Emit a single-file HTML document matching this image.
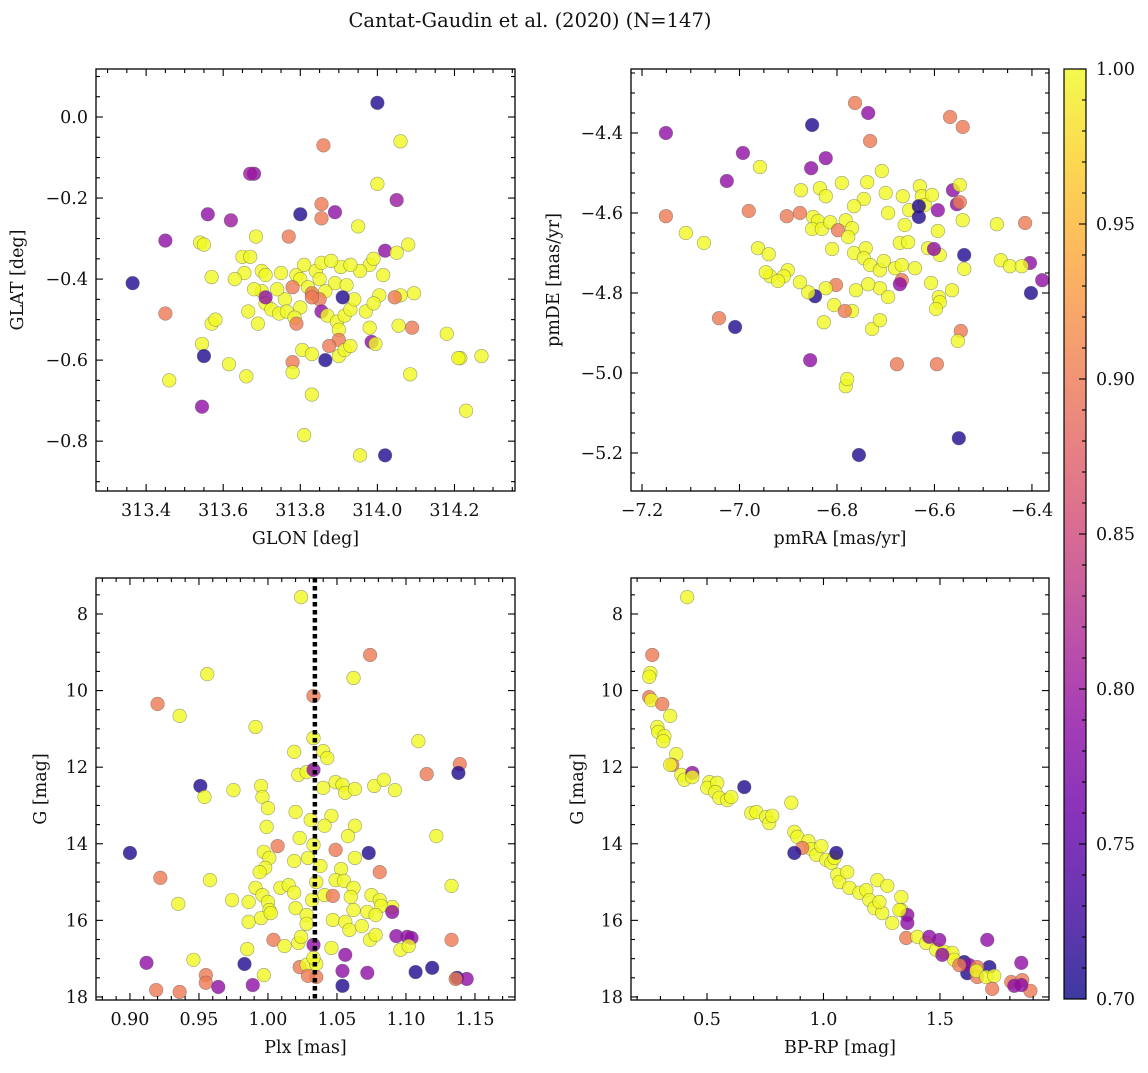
<!DOCTYPE html>
<html><head><meta charset="utf-8"><style>
html,body{margin:0;padding:0;background:#fff;}
svg text{font-family:"DejaVu Serif","Liberation Serif",serif;fill:#111;}
</style></head><body>
<svg id="chart" width="1148" height="1068" viewBox="0 0 1148 1068" xmlns="http://www.w3.org/2000/svg">
<text x="530" y="27" font-size="19.5" text-anchor="middle">Cantat-Gaudin et al. (2020) (N=147)</text>
</svg>
<script>
// ---------- Panel 1 data: GLON / GLAT ----------
const p1Lon=[314.00,313.86,314.06,313.68,313.67,314.00,314.05,313.855,313.56,313.80,313.89,313.855,313.62,313.95,313.45,313.54,313.55,313.685,313.77,314.08,313.365,314.02,314.05,313.57,313.65,313.67,313.70,313.655,313.75,313.71,313.98,313.99,313.955,313.905,313.93,313.79,313.81,313.84,313.855,313.88,313.85,313.89,313.92,313.80,313.82,313.865,313.78,313.83,313.85,313.83,313.80,313.76,313.74,313.70,313.68,313.71,313.725,313.745,313.765,313.785,313.79,313.71,313.855,313.87,313.895,313.915,313.93,313.94,313.91,314.015,314.005,314.06,314.095,314.045,313.97,313.99,313.45,313.545,313.545,313.55,313.57,313.58,313.69,313.665,313.865,313.78,313.78,313.805,313.83,313.90,313.90,313.90,313.915,313.93,313.875,313.985,313.995,313.98,314.055,314.09,314.18,314.215,314.21,314.27,314.23,314.085,313.46,313.66,313.615,313.83,313.81,313.955,314.02,313.63];
const p1Lat=[0.035,-0.07,-0.06,-0.14,-0.14,-0.165,-0.205,-0.215,-0.24,-0.24,-0.235,-0.25,-0.255,-0.27,-0.305,-0.31,-0.315,-0.295,-0.295,-0.315,-0.41,-0.33,-0.335,-0.395,-0.345,-0.345,-0.38,-0.385,-0.385,-0.39,-0.365,-0.35,-0.38,-0.37,-0.365,-0.39,-0.365,-0.38,-0.36,-0.355,-0.40,-0.41,-0.415,-0.40,-0.42,-0.43,-0.42,-0.435,-0.45,-0.445,-0.47,-0.45,-0.425,-0.43,-0.425,-0.46,-0.475,-0.485,-0.48,-0.495,-0.51,-0.445,-0.48,-0.49,-0.505,-0.49,-0.475,-0.45,-0.445,-0.39,-0.44,-0.44,-0.435,-0.445,-0.48,-0.46,-0.485,-0.56,-0.715,-0.59,-0.51,-0.50,-0.51,-0.48,-0.60,-0.605,-0.63,-0.575,-0.585,-0.525,-0.55,-0.59,-0.575,-0.565,-0.565,-0.555,-0.56,-0.52,-0.515,-0.52,-0.535,-0.595,-0.595,-0.59,-0.725,-0.635,-0.65,-0.64,-0.61,-0.685,-0.785,-0.835,-0.835,-0.40];
const p1Prob=[0.71,0.9,1,0.79,0.8,1,0.8,0.9,0.79,0.71,0.79,0.9,0.8,1,0.79,1,1,1,0.9,1,0.71,0.79,1,1,1,1,1,1,1,1,1,1,1,1,1,1,1,1,1,1,1,1,1,1,1,1,0.9,0.9,0.9,0.9,1,1,1,1,1,1,1,1,1,1,0.9,0.79,0.79,1,1,1,1,1,0.71,1,1,1,1,0.9,1,1,0.9,1,0.79,0.71,1,1,1,1,0.71,0.9,1,1,1,1,0.9,1,1,1,0.9,0.79,1,1,1,0.9,1,1,1,1,1,1,1,1,1,1,1,1,0.71,1];
const p1XTicks=[313.4,313.6,313.8,314.0,314.2];
const p1YTicks=[0.0,-0.2,-0.4,-0.6,-0.8];

// ---------- Panel 2 data: pmRA / pmDE ----------
const p2RA=[-7.151,-6.763,-6.851,-6.736,-6.732,-6.568,-6.542,-6.993,-6.823,-7.026,-6.958,-6.853,-6.708,-6.790,-6.738,-6.835,-6.874,-6.823,-6.745,-6.700,-6.630,-6.695,-6.765,-6.665,-6.652,-6.626,-6.620,-6.605,-6.632,-6.632,-6.593,-6.554,-6.562,-6.548,-6.542,-6.472,-6.548,-6.414,-7.151,-7.110,-7.073,-6.981,-6.903,-6.876,-6.849,-6.839,-6.851,-6.831,-6.814,-6.782,-6.769,-6.798,-6.810,-6.777,-6.765,-6.741,-6.745,-6.732,-6.712,-6.704,-6.681,-6.667,-6.640,-6.671,-6.654,-6.613,-6.589,-6.661,-6.593,-6.539,-6.601,-6.667,-6.671,-6.712,-6.736,-6.695,-6.761,-6.802,-6.823,-6.845,-6.859,-6.901,-6.909,-6.937,-6.946,-6.921,-6.876,-6.769,-6.806,-6.827,-6.784,-6.728,-6.712,-6.782,-6.779,-6.855,-7.042,-7.009,-6.607,-6.591,-6.589,-6.597,-6.564,-6.539,-6.464,-6.445,-6.546,-6.552,-6.677,-6.595,-6.550,-6.755,-6.402,-6.404,-6.379,-6.421,-6.962,-6.940];
const p2DE=[-4.400,-4.325,-4.380,-4.350,-4.420,-4.360,-4.385,-4.450,-4.463,-4.520,-4.485,-4.488,-4.495,-4.525,-4.523,-4.538,-4.543,-4.558,-4.565,-4.550,-4.533,-4.600,-4.583,-4.558,-4.593,-4.558,-4.580,-4.555,-4.583,-4.610,-4.593,-4.578,-4.543,-4.530,-4.618,-4.628,-4.573,-4.625,-4.608,-4.650,-4.675,-4.595,-4.608,-4.600,-4.610,-4.620,-4.640,-4.640,-4.623,-4.618,-4.638,-4.643,-4.690,-4.660,-4.700,-4.688,-4.713,-4.730,-4.743,-4.720,-4.738,-4.730,-4.738,-4.675,-4.673,-4.688,-4.705,-4.630,-4.645,-4.705,-4.690,-4.768,-4.778,-4.788,-4.778,-4.810,-4.793,-4.780,-4.788,-4.808,-4.798,-4.743,-4.758,-4.758,-4.748,-4.770,-4.773,-4.845,-4.830,-4.873,-4.845,-4.890,-4.868,-5.033,-5.015,-4.968,-4.863,-4.885,-4.775,-4.810,-4.823,-4.840,-4.793,-4.740,-4.718,-4.733,-4.895,-4.920,-4.978,-4.978,-5.163,-5.205,-4.800,-4.725,-4.768,-4.733,-4.688,-4.703];
const p2Prob=[0.79,0.9,0.71,0.79,0.9,0.9,0.9,0.79,0.79,0.79,1,0.79,1,1,1,1,1,1,1,1,1,1,1,1,1,1,1,1,0.71,0.71,0.79,0.79,0.79,1,1,1,0.9,0.9,0.9,1,1,0.9,0.9,0.9,1,1,1,1,1,1,1,0.9,1,1,1,1,1,1,1,1,1,1,1,1,1,1,1,1,1,0.71,0.79,0.9,0.79,1,1,1,1,0.9,1,0.71,1,1,1,1,1,1,1,1,1,1,0.9,1,1,1,1,0.79,0.9,0.71,1,1,1,1,1,1,1,1,0.9,1,0.9,0.9,0.71,0.71,0.71,0.79,0.79,1,1,1];
const p2XTicks=[-7.2,-7.0,-6.8,-6.6,-6.4];
const p2YTicks=[-4.4,-4.6,-4.8,-5.0,-5.2];

// ---------- Panel 3 data: Plx / G ----------
const p3Plx=[1.024,1.074,1.062,1.033,0.956,0.920,0.936,0.991,1.109,1.019,1.033,1.040,1.043,0.951,0.954,0.975,0.995,0.996,1.022,1.028,1.033,1.040,1.049,1.054,1.056,1.063,1.077,1.084,1.092,1.115,1.139,1.138,1.122,1.020,1.031,1.046,1.041,1.063,1.000,0.999,1.023,1.033,1.058,1.049,1.073,0.900,0.922,0.997,1.007,1.001,0.998,1.019,1.029,1.038,1.053,1.063,1.081,0.958,0.994,0.991,0.996,1.009,1.015,1.019,1.035,1.041,1.049,1.055,1.062,0.935,0.974,0.986,1.000,1.001,1.032,1.047,1.060,1.075,1.081,1.090,1.082,1.133,0.986,0.995,1.002,1.020,1.028,1.028,1.047,1.062,1.072,1.078,1.056,1.004,0.985,1.012,1.022,1.024,1.046,1.059,1.068,1.074,1.078,1.093,1.101,1.104,1.096,1.102,1.090,0.946,0.983,0.912,1.056,1.107,1.119,1.133,1.023,1.028,1.054,1.072,1.035,1.035,1.033,1.033,0.919,0.936,0.955,0.955,0.964,0.989,0.997,1.029,1.054,1.137,1.144,1.136];
const p3G=[7.56,9.07,9.67,10.14,9.57,10.35,10.66,10.95,11.32,11.60,11.24,11.58,11.76,12.49,12.78,12.60,12.49,12.78,12.20,12.13,12.07,12.54,12.39,12.46,12.67,12.57,12.49,12.33,12.60,12.18,11.92,12.15,13.80,13.17,13.38,13.27,13.53,13.53,13.07,13.56,13.85,14.03,13.80,14.16,14.24,14.24,14.89,14.21,14.06,14.37,14.63,14.45,14.37,14.58,14.66,14.37,14.74,14.95,14.74,15.15,15.34,15.15,15.08,15.28,15.00,15.34,14.95,14.97,15.15,15.57,15.47,15.52,15.52,15.73,15.47,15.36,15.39,15.34,15.47,15.65,15.62,15.10,16.04,15.94,15.81,15.68,15.86,16.09,15.99,15.73,15.78,15.86,16.04,16.51,16.75,16.67,16.59,16.43,16.72,16.25,16.15,16.51,16.38,16.41,16.43,16.46,16.77,16.67,15.78,17.03,17.14,17.11,16.90,17.35,17.24,16.51,17.22,17.16,17.32,17.37,17.14,17.48,16.64,16.98,17.82,17.87,17.43,17.63,17.74,17.69,17.43,17.45,17.71,17.50,17.53,17.53];
const p3Prob=[1,0.9,1,0.9,1,0.9,1,1,1,1,1,1,1,0.71,1,1,1,1,1,1,0.79,1,1,1,1,1,1,1,1,0.9,0.9,0.71,1,1,1,1,1,1,1,1,1,1,1,0.9,0.71,0.71,0.9,1,0.9,1,1,1,1,1,1,1,0.9,1,1,1,1,1,1,1,1,1,1,1,1,1,1,1,1,1,1,0.9,1,1,1,1,1,1,1,1,1,1,1,1,1,1,1,1,1,0.9,1,1,1,1,1,1,1,1,1,0.79,0.79,0.79,1,1,0.79,1,0.71,0.79,0.79,0.71,0.71,0.9,0.9,1,0.79,0.79,1,0.9,0.79,1,0.9,0.9,0.9,0.9,0.79,0.79,1,0.9,0.71,0.71,0.79,0.9];
const p3XTicks=[0.90,0.95,1.00,1.05,1.10,1.15];
const p3YTicks=[8,10,12,14,16,18];
const p3Median=[1.034];

// ---------- Panel 4 data: BP-RP / G ----------
const p4Col=[0.415,0.265,0.257,0.252,0.252,0.261,0.308,0.342,0.287,0.291,0.317,0.312,0.368,0.351,0.342,0.390,0.403,0.437,0.437,0.510,0.501,0.544,0.536,0.553,0.587,0.604,0.660,0.690,0.712,0.754,0.767,0.780,0.862,0.875,0.888,0.935,0.948,0.969,0.991,1.012,1.034,1.047,0.909,0.875,1.055,1.059,1.068,1.102,1.111,1.154,1.184,1.197,1.218,1.231,1.274,1.252,1.295,1.334,1.334,1.240,1.360,1.360,1.355,1.403,1.441,1.484,1.518,1.553,1.561,1.497,1.454,1.510,1.604,1.617,1.712,1.626,1.583,1.660,1.660,1.656,1.699,1.733,1.703,1.849,1.724,1.806,1.853,1.888,1.819,1.849,1.326];
const p4G=[7.56,9.07,9.54,9.64,10.17,10.25,10.35,10.66,10.95,11.08,11.19,11.32,11.66,11.94,11.94,12.20,12.33,12.15,12.26,12.39,12.54,12.41,12.65,12.80,12.86,12.78,12.52,13.20,13.17,13.30,13.46,13.27,12.93,13.69,13.82,13.93,14.14,14.29,14.06,14.42,14.50,14.37,14.11,14.24,14.24,14.81,15.00,14.74,15.15,15.28,15.21,15.47,15.68,14.95,15.10,15.81,16.07,15.39,15.73,15.52,15.86,16.07,16.46,16.43,16.59,16.77,16.82,16.85,17.03,16.51,16.43,16.90,17.09,17.38,17.22,17.17,17.17,17.22,17.48,17.32,17.48,17.45,16.51,17.11,17.79,17.61,17.56,17.84,17.71,17.69,15.73];
const p4Prob=[1,0.9,1,1,0.9,1,0.9,1,1,1,1,1,1,0.9,1,1,1,0.79,1,1,1,1,1,1,1,1,0.71,1,1,1,1,1,1,1,1,1,1,1,1,1,1,1,0.9,0.71,0.71,1,1,1,1,1,1,1,1,1,1,1,1,1,1,1,0.79,0.79,0.9,1,1,1,1,1,1,0.79,0.79,0.79,0.71,0.71,0.71,0.79,0.9,0.9,0.9,1,1,1,0.79,0.79,0.9,0.9,0.9,0.9,0.79,0.79,1];
const p4XTicks=[0.5,1.0,1.5];
const p4YTicks=[8,10,12,14,16,18];

const cbTicks=[0.70,0.75,0.80,0.85,0.90,0.95,1.00];

const NS="http://www.w3.org/2000/svg";
const svg=document.getElementById('chart');
function mk(tag,attrs,parent){const e=document.createElementNS(NS,tag);for(const k in attrs)e.setAttribute(k,attrs[k]);(parent||svg).appendChild(e);return e;}
const stops=[[0,'#0d0887'],[0.1,'#41049d'],[0.2,'#6a00a8'],[0.3,'#8f0da4'],[0.4,'#b12a90'],[0.5,'#cc4778'],[0.6,'#e16462'],[0.7,'#f2844b'],[0.8,'#fca636'],[0.9,'#fcce25'],[1,'#f0f921']];
function hex(h){return [1,3,5].map(i=>parseInt(h.substr(i,2),16));}
function plasma(t){t=Math.max(0,Math.min(1,t));for(let i=1;i<stops.length;i++){if(t<=stops[i][0]){const a=stops[i-1],b=stops[i];const f=(t-a[0])/(b[0]-a[0]);const ca=hex(a[1]),cb=hex(b[1]);return 'rgb('+ca.map((v,j)=>Math.round(v+(cb[j]-v)*f)).join(',')+')';}}return stops[stops.length-1][1];}
const VMIN=0.7,VMAX=1.0;
const TFS=17.5, LFS=17.5;
function fmt(v,d){return (v<0?'\u2212':'')+Math.abs(v).toFixed(d);}

let clipId=0;
function panel(o){
  const g=mk('g',{});
  
  
  const W=o.x1-o.x0,H=o.y1-o.y0;
  const sx=v=>o.x0+(v-o.xa)/(o.xb-o.xa)*W;
  const sy=v=>o.y0+(v-o.ya)/(o.yb-o.ya)*H;
  const cid='clip'+(clipId++);
  const cp=mk('clipPath',{id:cid},g);mk('rect',{x:o.x0,y:o.y0,width:W,height:H},cp);
  const pts=mk('g',{'clip-path':'url(#'+cid+')'},g);
  
  
  for(let i=0;i<o.xs.length;i++){
    const c=mk('circle',{cx:sx(o.xs[i]),cy:sy(o.ys[i]),r:6.8,fill:plasma((o.ps[i]-VMIN)/(VMAX-VMIN)),'fill-opacity':0.8,stroke:'#555','stroke-opacity':0.55,'stroke-width':0.6},pts);
    
    
  }
  if(o.vline){o.vline.forEach(v=>{const l=mk('line',{x1:sx(v),x2:sx(v),y1:o.y0,y2:o.y1,stroke:'#000','stroke-width':4.5,'stroke-dasharray':'4.5,3.5'},pts);
    
    });}
  const fr=mk('rect',{x:o.x0,y:o.y0,width:W,height:H,fill:'none',stroke:'#000','stroke-width':1.3},g);
  
  
  const tk=mk('g',{stroke:'#000','stroke-width':1.1},g);
  const lo=Math.min(o.xa,o.xb),hi=Math.max(o.xa,o.xb);
  for(let k=Math.ceil(lo/o.xm-1e-6);k*o.xm<=hi+1e-9;k++){const v=k*o.xm,x=sx(v);const maj=o.xt.some(t=>Math.abs(t-v)<o.xm/3);const L=maj?7:4;
    mk('line',{x1:x,x2:x,y1:o.y1,y2:o.y1-L},tk);mk('line',{x1:x,x2:x,y1:o.y0,y2:o.y0+L},tk);}
  const ylo=Math.min(o.ya,o.yb),yhi=Math.max(o.ya,o.yb);
  for(let k=Math.ceil(ylo/o.ym-1e-6);k*o.ym<=yhi+1e-9;k++){const v=k*o.ym,y=sy(v);const maj=o.yt.some(t=>Math.abs(t-v)<o.ym/3);const L=maj?7:4;
    mk('line',{x1:o.x0,x2:o.x0+L,y1:y,y2:y},tk);mk('line',{x1:o.x1,x2:o.x1-L,y1:y,y2:y},tk);}
  o.xt.forEach(v=>{const t=mk('text',{x:sx(v),y:o.y1+25,'font-size':TFS,'text-anchor':'middle'},g);t.textContent=fmt(v,o.xd);
    
    });
  o.yt.forEach(v=>{const t=mk('text',{x:o.x0-8,y:sy(v)+6,'font-size':TFS,'text-anchor':'end'},g);t.textContent=fmt(v,o.yd);
    
    });
  const xl=mk('text',{x:(o.x0+o.x1)/2,y:o.y1+53,'font-size':LFS,'text-anchor':'middle'},g);xl.textContent=o.xlab;
  
  
  const yx=o.ylx,yy=(o.y0+o.y1)/2;
  const yl=mk('text',{x:yx,y:yy,'font-size':LFS,'text-anchor':'middle',transform:'rotate(-90 '+yx+' '+yy+')'},g);yl.textContent=o.ylab;
  
  
}
panel({name:'panel-glon-glat',x0:96,x1:515,y0:69,y1:491,xa:313.27,xb:314.357,ya:0.1185,yb:-0.923,xs:p1Lon,ys:p1Lat,ps:p1Prob,xt:p1XTicks,yt:p1YTicks,xm:0.05,ym:0.05,xd:1,yd:1,xlab:'GLON [deg]',ylab:'GLAT [deg]',ylx:23});
panel({name:'panel-pm',x0:631,x1:1049,y0:69,y1:491,xa:-7.2226,xb:-6.365,ya:-4.24,yb:-5.295,xs:p2RA,ys:p2DE,ps:p2Prob,xt:p2XTicks,yt:p2YTicks,xm:0.05,ym:0.05,xd:1,yd:1,xlab:'pmRA [mas/yr]',ylab:'pmDE [mas/yr]',ylx:559});
panel({name:'panel-plx-g',x0:96,x1:515,y0:578,y1:1000,xa:0.8754,xb:1.179,ya:7.06,yb:18.08,xs:p3Plx,ys:p3G,ps:p3Prob,xt:p3XTicks,yt:p3YTicks,xm:0.01,ym:0.5,xd:2,yd:0,xlab:'Plx [mas]',ylab:'G [mag]',ylx:46,vline:p3Median});
panel({name:'panel-cmd',x0:631,x1:1049,y0:578,y1:1000,xa:0.1738,xb:1.968,ya:7.06,yb:18.08,xs:p4Col,ys:p4G,ps:p4Prob,xt:p4XTicks,yt:p4YTicks,xm:0.1,ym:0.5,xd:1,yd:0,xlab:'BP-RP [mag]',ylab:'G [mag]',ylx:583});

// colorbar
(function(){
  const x0=1064,x1=1086,y0=69,y1=999;
  const g=mk('g',{});
  
  
  const defs=mk('defs',{},g);
  const lg=mk('linearGradient',{id:'cbgrad',x1:0,y1:1,x2:0,y2:0},defs);
  for(let i=0;i<=20;i++){mk('stop',{offset:i/20,'stop-color':plasma(i/20),'stop-opacity':0.8},lg);}
  mk('rect',{x:x0,y:y0,width:x1-x0,height:y1-y0,fill:'url(#cbgrad)',stroke:'#000','stroke-width':1.2},g);
  const sy=v=>y1-(v-VMIN)/(VMAX-VMIN)*(y1-y0);
  for(let k=70;k<=100;k++){const v=k/100;const maj=k%5===0;mk('line',{x1:x1,x2:x1-(maj?7:4),y1:sy(v),y2:sy(v),stroke:'#000','stroke-width':1.1},g);}
  cbTicks.forEach(v=>{const t=mk('text',{x:x1+10,y:sy(v)+6,'font-size':TFS},g);t.textContent=v.toFixed(2);
    
    });
})();
</script>
</body></html>
